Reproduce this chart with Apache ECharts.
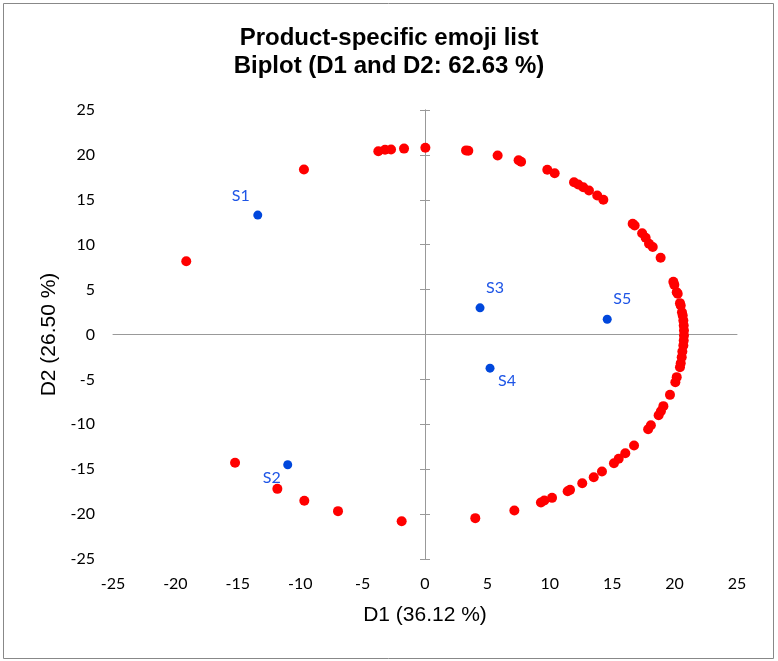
<!DOCTYPE html>
<html>
<head>
<meta charset="utf-8">
<script src="https://cdn.jsdelivr.net/npm/echarts@6/dist/echarts.min.js"></script>
<style>
  html, body { margin: 0; padding: 0; background: #fff; }
  #chart { width: 778px; height: 661px; }
</style>
</head>
<body>
<div id="chart"></div>
<script>
// Variable coordinates (emoji terms) on the D1/D2 plane
const varD1 = [
  -3.74, -3.20, -2.72, -1.68, 0.03, 3.29, 3.47, 5.82, 7.50, 7.70,
  9.80, 10.39, 11.94, 12.28, 12.68, 13.14, 13.80, 14.29, 16.64, 16.80,
  17.40, 17.68, 17.95, 18.25, 18.88,
  19.90, 19.98, 20.17, 20.25, 20.43, 20.49, 20.59, 20.65, 20.70, 20.73,
  20.75, 20.75, 20.73, 20.70, 20.62, 20.57, 20.49, 20.43, 20.17, 20.06,
  19.63,
  19.10, 18.90, 18.72, 18.10, 17.88,
  16.75, 16.05, 15.52, 15.14, 14.18, 13.52, 12.60, 11.62, 11.43, 10.18,
  9.56, 9.29, 7.16, 4.03,
  -1.87, -6.97, -9.67, -11.83, -15.22, -19.13, -9.70
];
const varD2 = [
  20.41, 20.57, 20.60, 20.70, 20.79, 20.50, 20.46, 19.93, 19.40, 19.23,
  18.34, 17.96, 16.96, 16.70, 16.40, 16.04, 15.48, 15.00, 12.33, 12.14,
  11.28, 10.77, 10.10, 9.75, 8.54,
  5.87, 5.53, 4.71, 4.53, 3.49, 3.23, 2.48, 2.12, 1.56, 1.00,
  0.45, -0.11, -0.67, -1.22, -1.89, -2.53, -3.20, -3.64, -4.75, -5.31,
  -6.72,
  -7.98, -8.54, -9.00, -10.10, -10.55,
  -12.36, -13.22, -13.84, -14.33, -15.26, -15.89, -16.56, -17.30, -17.45, -18.19,
  -18.49, -18.70, -19.60, -20.45,
  -20.79, -19.67, -18.52, -17.19, -14.29, 8.16, 18.37
];

// Observation (product sample) coordinates
const obsNames = ['S1', 'S2', 'S3', 'S4', 'S5'];
const obsD1 = [-13.40, -11.00, 4.41, 5.21, 14.60];
const obsD2 = [13.30, -14.50, 2.97, -3.75, 1.70];

// Axis range and tick step
const axisMin = -25;
const axisMax = 25;
const axisStep = 5;

// Label placement around each sample point
const obsLabelOffset = {
  S1: [-17, -19],
  S2: [-16, 13],
  S3: [15, -20],
  S4: [17, 13],
  S5: [15, -20]
};

const varData = varD1.map((x, i) => [x, varD2[i]]);
const obsData = obsNames.map((n, i) => ({
  name: n,
  value: [obsD1[i], obsD2[i]],
  label: { offset: obsLabelOffset[n] }
}));

const axisGray = '#999999';
const tickFont = { fontFamily: 'Lato', fontSize: 16, color: '#000' };
const nameFont = { fontFamily: 'Liberation Sans, Arial', fontSize: 21, color: '#000' };

const chart = echarts.init(document.getElementById('chart'), null, { renderer: 'canvas' });

chart.setOption({
  animation: false,
  backgroundColor: '#fff',
  title: {
    text: 'Product-specific emoji list\nBiplot (D1 and D2: 62.63 %)',
    left: 'center',
    top: 19,
    textStyle: {
      fontFamily: 'Liberation Sans, Arial',
      fontWeight: 'bold',
      fontSize: 24,
      lineHeight: 28,
      color: '#000'
    }
  },
  graphic: [{
    type: 'rect',
    shape: { x: 3.5, y: 3.5, width: 770, height: 655 },
    style: { fill: null, stroke: '#888', lineWidth: 1 },
    silent: true,
    z: -1
  }],
  grid: { left: 113, right: 41, top: 110, bottom: 102 },
  xAxis: [
    {
      type: 'value', min: axisMin, max: axisMax, interval: axisStep,
      position: 'bottom',
      axisLine: { show: false, onZero: false },
      axisTick: { show: false },
      splitLine: { show: false },
      axisLabel: Object.assign({ margin: 17 }, tickFont),
      name: 'D1 (36.12 %)',
      nameLocation: 'middle',
      nameGap: 46,
      nameTextStyle: nameFont
    },
    {
      type: 'value', min: axisMin, max: axisMax, interval: axisStep,
      position: 'top',
      axisLine: { show: true, onZero: true, lineStyle: { color: axisGray, width: 1 } },
      axisTick: { show: false },
      axisLabel: { show: false },
      splitLine: { show: false }
    }
  ],
  yAxis: [
    {
      type: 'value', min: axisMin, max: axisMax, interval: axisStep,
      position: 'left',
      axisLine: { show: false, onZero: false },
      axisTick: { show: false },
      splitLine: { show: false },
      axisLabel: Object.assign({ margin: 18 }, tickFont),
      name: 'D2 (26.50 %)',
      nameLocation: 'middle',
      nameGap: 46,
      nameRotate: 90,
      nameTextStyle: nameFont
    },
    {
      type: 'value', min: axisMin, max: axisMax, interval: axisStep,
      position: 'left',
      axisLine: { show: true, onZero: true, lineStyle: { color: axisGray, width: 1 } },
      axisTick: { show: true, length: 5, lineStyle: { color: axisGray } },
      axisLabel: { show: false },
      splitLine: { show: false }
    },
    {
      type: 'value', min: axisMin, max: axisMax, interval: axisStep,
      position: 'right',
      axisLine: { show: true, onZero: true, lineStyle: { color: axisGray, width: 1 } },
      axisTick: { show: true, length: 5, lineStyle: { color: axisGray } },
      axisLabel: { show: false },
      splitLine: { show: false }
    }
  ],
  series: [
    {
      name: 'Variables',
      type: 'scatter',
      xAxisIndex: 0,
      yAxisIndex: 0,
      symbol: 'circle',
      symbolSize: 10,
      itemStyle: { color: '#FF0000', opacity: 1 },
      data: varData,
      z: 3
    },
    {
      name: 'Observations',
      type: 'scatter',
      xAxisIndex: 0,
      yAxisIndex: 0,
      symbol: 'circle',
      symbolSize: 9,
      itemStyle: { color: '#0047DC', opacity: 1 },
      label: {
        show: true,
        position: 'inside',
        align: 'center',
        verticalAlign: 'middle',
        formatter: '{b}',
        fontFamily: 'Lato',
        fontSize: 16,
        color: '#1E55E6'
      },
      data: obsData,
      z: 4
    }
  ]
});
</script>
</body>
</html>
